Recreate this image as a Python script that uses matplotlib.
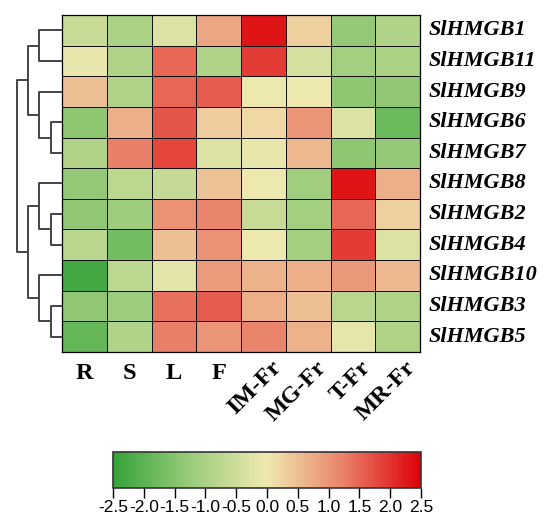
import matplotlib
matplotlib.use("Agg")
import matplotlib.pyplot as plt
import numpy as np
from matplotlib.colors import LinearSegmentedColormap
from matplotlib.transforms import offset_copy

# relative expression (z-score) of the tomato HMGB genes across tissues
genes = ["SlHMGB1", "SlHMGB11", "SlHMGB9", "SlHMGB6", "SlHMGB7", "SlHMGB8",
         "SlHMGB2", "SlHMGB4", "SlHMGB10", "SlHMGB3", "SlHMGB5"]
tissues = ["R", "S", "L", "F", "IM-Fr", "MG-Fr", "T-Fr", "MR-Fr"]
expr = [
    [-0.6, -1.0, -0.3, 0.8, 2.3, 0.3, -1.3, -0.9],
    [-0.1, -0.9, 1.5, -0.9, 1.9, -0.4, -1.1, -1.0],
    [0.5, -0.9, 1.5, 1.6, -0.05, -0.05, -1.4, -1.35],
    [-1.4, 0.7, 1.65, 0.35, 0.2, 1.0, -0.3, -1.8],
    [-0.9, 1.25, 1.8, -0.3, -0.1, 0.6, -1.4, -1.3],
    [-1.3, -0.75, -0.65, 0.45, -0.05, -1.15, 2.3, 0.7],
    [-1.35, -1.2, 1.05, 1.2, -0.6, -1.1, 1.5, 0.3],
    [-0.8, -1.7, 0.5, 1.05, -0.05, -1.1, 1.9, -0.3],
    [-2.3, -0.75, -0.2, 0.9, 0.65, 0.7, 0.95, 0.6],
    [-1.35, -1.2, 1.4, 1.6, 0.7, 0.5, -0.8, -0.95],
    [-1.9, -0.9, 1.25, 1.0, 1.2, 0.65, -0.15, -0.95],
]
# row clustering: (height, left, right), leaves are row indices
row_tree = (4.0,
            (3.0, (2.0, 0, 1), (2.0, 2, (1.0, 3, 4))),
            (3.0, (2.0, 5, (1.0, 6, 7)), (2.0, 8, (1.0, 9, 10))))
cbar_ticks = [-2.5, -2.0, -1.5, -1.0, -0.5, 0.0, 0.5, 1.0, 1.5, 2.0, 2.5]

cmap = LinearSegmentedColormap.from_list(
    "gyr", ["#34a33a", "#9acb7a", "#f0e9b2", "#e9806a", "#dd0008"])

fig = plt.figure(figsize=(5.44, 5.16), dpi=100)
W, H = 544, 516


def px_axes(x0, y0, x1, y1):
    return fig.add_axes([x0 / W, 1 - y1 / H, (x1 - x0) / W, (y1 - y0) / H])


ax = px_axes(62, 15, 420, 352)
data = np.array(expr)
mesh = ax.pcolormesh(data, cmap=cmap, vmin=-2.5, vmax=2.5,
                     edgecolors="#111111", linewidth=0.6)
ax.set_xlim(0, len(tissues))
ax.set_ylim(len(genes), 0)
ax.set_xticks([])
ax.set_yticks([])
for s in ax.spines.values():
    s.set_linewidth(0.9)

serif = "Liberation Serif"
row_tr = offset_copy(ax.get_yaxis_transform(), fig=fig, x=9, units="dots")
for i, g in enumerate(genes):
    ax.text(1.0, i + 0.5, g, transform=row_tr,
            fontsize=16, fontweight="bold", fontstyle="italic",
            family=serif, ha="left", va="center")

for j, name in enumerate(tissues):
    if "-" in name:
        tr = offset_copy(ax.get_xaxis_transform(), fig=fig, x=7, y=-5, units="dots")
        ax.text(j + 0.5, 0, name, transform=tr, rotation=45, rotation_mode="anchor",
                ha="right", va="top", fontsize=17.5, fontweight="bold", family=serif)
    else:
        tr = offset_copy(ax.get_xaxis_transform(), fig=fig, y=-11, units="dots")
        ax.text(j + 0.5, 0, name, transform=tr, ha="center", va="top",
                fontsize=17.5, fontweight="bold", family=serif)

# dendrogram on the left
dax = px_axes(14, 15, 62, 352)
dax.set_xlim(4.25, 0)
dax.set_ylim(len(genes), 0)
dax.axis("off")


def draw_node(node):
    if isinstance(node, int):
        return node + 0.5, 0.0
    h, left, right = node
    yl, hl = draw_node(left)
    yr, hr = draw_node(right)
    dax.plot([hl, h, h, hr], [yl, yl, yr, yr], color="#444444", lw=1.4,
             solid_capstyle="butt")
    return (yl + yr) / 2, h


draw_node(row_tree)

# colour bar
cax = px_axes(113, 452, 421, 488)
cb = fig.colorbar(mesh, cax=cax, orientation="horizontal", ticks=cbar_ticks)
cb.ax.set_xticklabels([f"{v:.1f}" for v in cbar_ticks], family="Liberation Sans",
                      fontsize=12.5)
cb.ax.tick_params(length=7, width=1.0, pad=2)
cb.outline.set_linewidth(1.2)
cb.outline.set_edgecolor("#333333")

fig.savefig("out.png", dpi=100)
